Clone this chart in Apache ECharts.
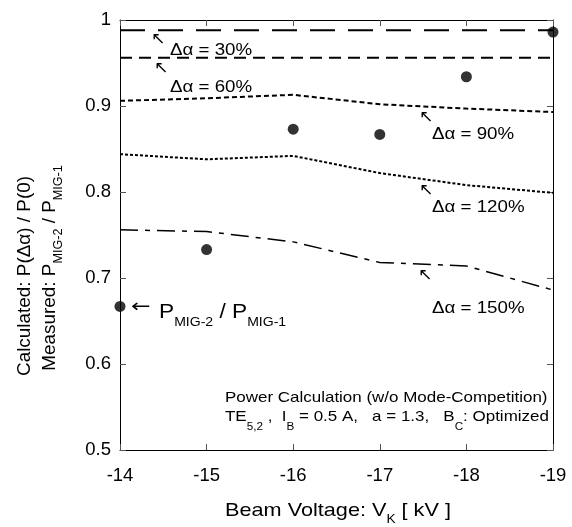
<!DOCTYPE html>
<html><head><meta charset="utf-8">
<script src="https://cdn.jsdelivr.net/npm/echarts@6/dist/echarts.min.js"></script>
<style>html,body{margin:0;padding:0;background:#fff}#c{width:572px;height:527px}</style>
</head><body><div id="c"></div>
<script>
var voltages = [-14, -15, -16, -17, -18, -19];
var da30  = [0.988, 0.988, 0.988, 0.988, 0.988, 0.988];
var da60  = [0.956, 0.956, 0.956, 0.956, 0.956, 0.956];
var da90  = [0.906, 0.909, 0.913, 0.902, 0.897, 0.893];
var da120 = [0.844, 0.838, 0.842, 0.822, 0.808, 0.799];
var da150 = [0.756, 0.754, 0.742, 0.718, 0.714, 0.686];
var measured = [0.667, 0.733, 0.873, 0.867, 0.934, 0.986];
var xTicks = {min: -19, max: -14, interval: 1};
var yTicks = {min: 0.5, max: 1, interval: 0.1};

function pairs(v){ return voltages.map(function(x,i){ return [x, v[i]]; }); }
var FONT = '"Liberation Sans", Arial, sans-serif';
var SX = 1.17;
function lineSeries(name, vals, dash, w){
  return {name:name, type:'line', data:pairs(vals), symbol:'none', silent:true,
    lineStyle:{color:'#000', width:w, type:dash}, z:3};
}
var chart = echarts.init(document.getElementById('c'), null, {renderer:'canvas'});
var axCommon = {
  type:'value', splitLine:{show:false},
  axisLine:{show:true, lineStyle:{color:'#000', width:1}},
  axisTick:{show:true, inside:true, length:6, lineStyle:{color:'#555', width:1}}
};
function ax(o){ return Object.assign({}, axCommon, o); }
var subS = {fontFamily:FONT, color:'#000', verticalAlign:'bottom'};
var g = [];
function txt(x, y, text, size, extra, sx){
  var o = {type:'text', x:x, y:y, z:10, scaleX:(sx||SX), style:Object.assign({text:text, fill:'#000', font: size+'px '+FONT, textAlign:'left', textVerticalAlign:'middle'}, extra||{})};
  g.push(o);
}
function rich(x, y, text, mSize, mLH, sSize, sx, align, rot){
  var o = {type:'text', x:x, y:y, z:10, scaleX:sx, style:{
    text:text, textAlign:align||'left', textVerticalAlign:'middle',
    rich:{m:{fontSize:mSize, fontFamily:FONT, color:'#000', lineHeight:mLH},
          s:Object.assign({}, subS, {fontSize:sSize, lineHeight:sSize})}}};
  if (rot) o.rotation = rot;
  g.push(o);
}
// arrows
[[158,40],[161,69],[426,118],[426,191],[425,276]].forEach(function(p){
  txt(p[0],p[1],'\u2196',17,{textAlign:'center', font:'17px "DejaVu Sans"'},1);
});
txt(170,51,'\u0394\u03b1 = 30%',16);
txt(170,88,'\u0394\u03b1 = 60%',16);
txt(432,135,'\u0394\u03b1 = 90%',16);
txt(432,208,'\u0394\u03b1 = 120%',16);
txt(432,309,'\u0394\u03b1 = 150%',16);
txt(131,307,'\u2190',18,{font:'18px "DejaVu Sans"'},1.3);
rich(159,312,'{m|P}{s|MIG-2}{m| / P}{s|MIG-1}',21,34,13,1.08);
// bottom-right annotation
txt(225,398,'Power Calculation (w/o Mode-Competition)',14.5);
rich(225,417,'{m|TE}{s|5,2}{m| ,  I}{s|B}{m| = 0.5 A,   a = 1.3,   B}{s|C}{m|: Optimized}',14.5,30,10,SX);
// axis titles
rich(338,511,'{m|Beam Voltage: V}{s|K}{m| [ kV ]}',19,30,12,1.14,'center');
g.push({type:'text', x:25, y:276, rotation:Math.PI/2, z:10, scaleX:1.05, style:{
  text:'Calculated: P(\u0394\u03b1) / P(0)', textAlign:'center', textVerticalAlign:'middle', fill:'#000', font:'18px '+FONT}});
rich(50,268,'{m|Measured: P}{s|MIG-2}{m| / P}{s|MIG-1}',18,30,12,1.05,'center',Math.PI/2);

chart.setOption({
  animation:false,
  backgroundColor:'#fff',
  grid:{left:120, right:19, top:20, bottom:77, containLabel:false},
  xAxis:[
    ax({position:'bottom', min:xTicks.min, max:xTicks.max, interval:xTicks.interval, inverse:true,
      axisLabel:{show:true, fontSize:18.5, fontFamily:FONT, color:'#000', margin:16}}),
    ax({position:'top', min:xTicks.min, max:xTicks.max, interval:xTicks.interval, inverse:true, axisLabel:{show:false}})
  ],
  yAxis:[
    ax({position:'left', min:yTicks.min, max:yTicks.max, interval:yTicks.interval,
      axisLabel:{show:true, fontSize:18.5, fontFamily:FONT, color:'#000', margin:9,
        formatter:function(v){ return String(Math.round(v*10)/10); }}}),
    ax({position:'right', min:yTicks.min, max:yTicks.max, interval:yTicks.interval, axisLabel:{show:false}})
  ],
  series:[
    lineSeries('30', da30, [25,13], 2),
    lineSeries('60', da60, [12,7], 2),
    lineSeries('90', da90, [5,3], 2),
    lineSeries('120', da120, [3,2], 2),
    lineSeries('150', da150, [18,7,5,7], 1.5),
    {name:'measured', type:'scatter', data:pairs(measured), symbol:'circle', symbolSize:11,
      itemStyle:{color:'#000'}, clip:false, z:5, silent:true}
  ],
  graphic:g
});
</script></body></html>
